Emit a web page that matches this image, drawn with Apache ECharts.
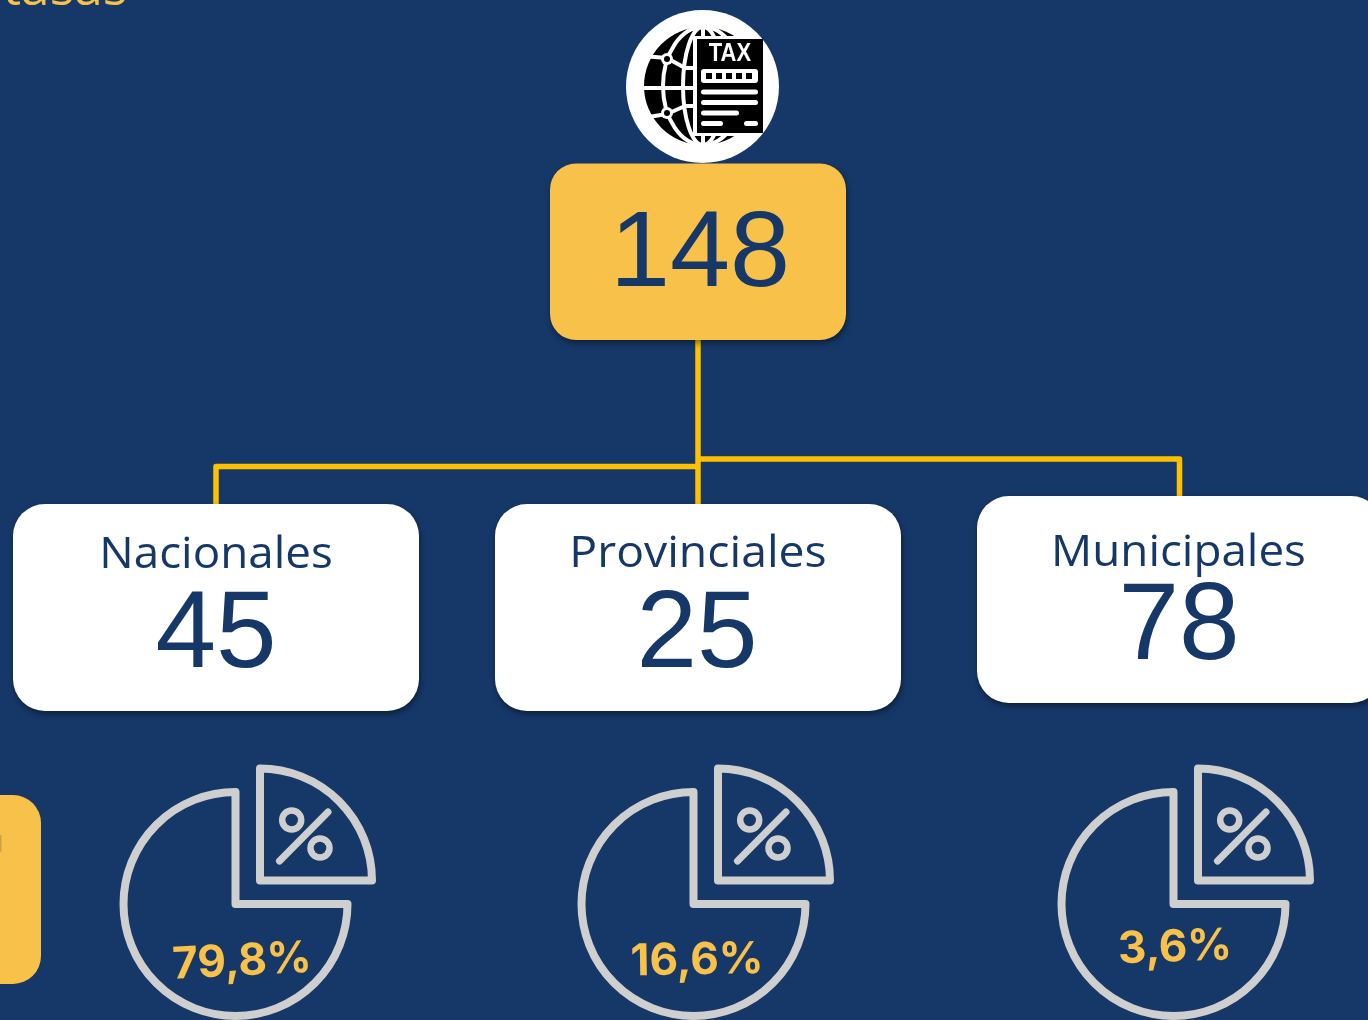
<!DOCTYPE html>
<html><head><meta charset="utf-8">
<style>html,body{margin:0;padding:0;background:#163868;overflow:hidden}#c{width:1368px;height:1020px}</style>
<script src="https://cdn.jsdelivr.net/npm/echarts@6/dist/echarts.min.js"></script>
</head><body><div id="c"></div>
<script>
const heading = 'tasas';
const total = '148';
const categories = ['Nacionales','Provinciales','Municipales'];
const counts = ['45','25','78'];
const shares = ['79,8%','16,6%','3,6%'];
const taxWord = 'TAX';

const NAVY='#163868', GOLD='#F8C14A', LINE='#FFC000', GREY='#CFCFCF', SANS='"Liberation Sans"', OPEN='"Open Sans"';
const cards=[{x:13,y:504,cx:216,lx:216,ly:555,ny:637,sx:1.04},{x:495,y:504,cx:697,lx:698,ly:554,ny:637,sx:1.053},{x:977,y:496,cx:1179,lx:1178.5,ly:553,ny:629,sx:1.04}];
const icons=[{dx:0,tx:242,ty:962,rot:3},{dx:458,tx:697,ty:961,rot:1},{dx:938,tx:1175,ty:948,rot:2}];
const els=[];
const add=e=>els.push(e);
const txt=(s,x,y,font,fill,extra)=>add(Object.assign({type:'text',x,y,style:Object.assign({text:s,x:0,y:0,font,fill,align:'center',verticalAlign:'middle',textAlign:'center',textVerticalAlign:'middle'},(extra&&extra.style)||{})},extra&&extra.el||{}));
const line=(x1,y1,x2,y2,stroke,w,cap)=>add({type:'line',shape:{x1,y1,x2,y2},style:{stroke,lineWidth:w,lineCap:cap||'butt'}});
const poly=(points,stroke,w)=>add({type:'polyline',shape:{points},style:{stroke,lineWidth:w,fill:'none',lineJoin:'round',lineCap:'butt'}});
const rect=(x,y,w,h,r,fill,extra)=>add({type:'rect',shape:{x,y,width:w,height:h,r},style:Object.assign({fill},extra||{})});
const circ=(cx,cy,r,style)=>add({type:'circle',shape:{cx,cy,r},style});

// heading cropped at the top
txt(heading,65,-9,'400 50px '+OPEN,GOLD,{el:{scaleX:1.03}});

// connectors
poly([[698,340],[698,505]],LINE,5.5);
poly([[698,466.5],[216,466.5],[216,505]],LINE,5.5);
poly([[698,459],[1179.5,459],[1179.5,497]],LINE,5.5);

// tax icon
circ(702.5,86.5,76.5,{fill:'#fff'});
const gx=703,gy=86,gr=59;
circ(gx,gy,gr,{fill:'#000'});
[[20,59],[40,59]].forEach(a=>add({type:'ellipse',shape:{cx:gx,cy:gy,rx:a[0],ry:a[1]},style:{fill:'none',stroke:'#fff',lineWidth:4}}));
line(640,gy+2,700,gy+2,'#fff',4);
poly([[642,56],[667,58],[685,68],[697,68]],'#fff',4);
poly([[642,118],[667,114],[685,106],[697,106]],'#fff',4);
line(703,20,703,150,'#fff',4);
[[667,59],[667,113]].forEach(p=>{circ(p[0],p[1],6,{fill:'#fff'});circ(p[0],p[1],3,{fill:'#000'});});
rect(693,36,50,100,0,'#fff');
rect(697,39,66,94,0,'#000');
txt(taxWord,730,54.5,'bold 25px '+SANS,'#fff',{el:{scaleX:.88}});
rect(701,69,57,14,3,'#fff');
[709,719,729,739,749].forEach(x=>rect(x-3,73,6,6,0,'#000'));
rect(701,89.5,57,5,2.5,'#fff');rect(701,100,57,5,2.5,'#fff');rect(701,110.5,38,5,2.5,'#fff');
rect(701,121,22,5,2.5,'#fff');rect(744,121,14,5,2.5,'#fff');

// total box
const sh={shadowBlur:6,shadowColor:'rgba(0,0,0,.45)',shadowOffsetX:1,shadowOffsetY:3};
rect(550,163.5,296,176.5,26,GOLD,sh);
txt(total,700,256,'108px '+SANS,NAVY,{style:{shadowBlur:4,shadowColor:'rgba(0,0,0,.4)',shadowOffsetX:2,shadowOffsetY:2}});

// category cards
cards.forEach((c,i)=>{
  rect(c.x,c.y,406,207,32,'#fff',sh);
  txt(categories[i],c.lx,c.ly,'44px '+OPEN,NAVY,{el:{scaleX:c.sx}});
  txt(counts[i],c.cx,c.ny,'109px '+SANS,NAVY);
});

// left cropped box
rect(-60,795,101,189,28,GOLD);
rect(0,835,1.5,17,0,'#C9A24C');

// pie icons
icons.forEach((k,i)=>{
  const d=k.dx, S={fill:'none',stroke:GREY,lineWidth:8,lineJoin:'round'};
  add({type:'sector',shape:{cx:235.5+d,cy:904,r:112,r0:0,startAngle:0,endAngle:Math.PI*1.5,clockwise:true},style:S});
  add({type:'sector',shape:{cx:260+d,cy:880.5,r:112,r0:0,startAngle:Math.PI*1.5,endAngle:Math.PI*2,clockwise:true},style:S});
  circ(291.7+d,820,9.5,{fill:'none',stroke:GREY,lineWidth:6.5});
  circ(320+d,848,9.5,{fill:'none',stroke:GREY,lineWidth:6.5});
  line(279.5+d,861,328+d,812,GREY,7,'round');
  txt(shares[i],k.tx,k.ty,'700 44px Inter',GOLD,{el:{rotation:k.rot*Math.PI/180}});
});

const chart=echarts.init(document.getElementById('c'),null,{renderer:'canvas'});
chart.setOption({animation:false,backgroundColor:NAVY,graphic:{elements:els}});
</script></body></html>
